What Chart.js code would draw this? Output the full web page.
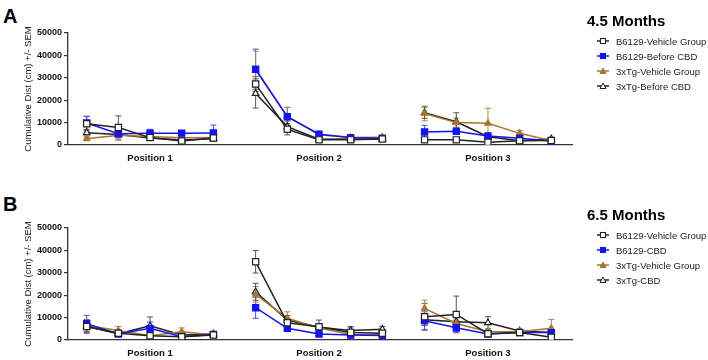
<!DOCTYPE html>
<html>
<head>
<meta charset="utf-8">
<script src="https://cdn.jsdelivr.net/npm/chart.js@4.4.1/dist/chart.umd.min.js"></script>
<style>
    body { margin: 0; width: 708px; height: 360px; background: #fff; position: relative; overflow: hidden;
           font-family: Arial, "Liberation Sans", sans-serif; }
    .panel { position: absolute; left: 0; width: 708px; height: 180px; }
    .tag { position: absolute; left: 3px; font-size: 20px; font-weight: bold; line-height: 20px; color: #000; }
    .legTitle { position: absolute; left: 587px; font-size: 15px; font-weight: bold; line-height: 18px; color: #000; }
    .legItem { position: absolute; left: 597px; height: 15px; line-height: 15px; font-size: 9.5px; color: #222;
               display: flex; align-items: center; white-space: nowrap; }
    .legItem svg { margin-right: 7px; }
</style>
</head>
<body>
<div class="tag" style="top:6px">A</div>
<div class="tag" style="top:194px">B</div>
<div class="panel" style="top:0"><canvas id="chartA" width="708" height="180"></canvas></div>
<div class="panel" style="top:180px"><canvas id="chartB" width="708" height="180"></canvas></div>
<div id="legends"></div>

<script>
// categories
const positions = ['Position 1', 'Position 2', 'Position 3'];
const yTicks = [0, 10000, 20000, 30000, 40000, 50000];

// 4.5 months (5 trials per position)
const namesA = ['B6129-Vehicle Group', 'B6129-Before CBD', '3xTg-Vehicle Group', '3xTg-Before CBD'];
const a_b6129Veh     = [9500, 7800, 3300, 1800, 3100,  27200, 7000, 2300, 2300, 2700,  2300, 2300, 1200, 1900, 2000];
const a_b6129Veh_sem = [3300, 5200, 800, 600, 800,     3300, 2500, 500, 500, 400,      500, 500, 400, 400, 400];
const a_b6129Cbd     = [9800, 5000, 5300, 5300, 5400,  33800, 12600, 4800, 3300, 3000, 5800, 6100, 4000, 3000, 1800];
const a_b6129Cbd_sem = [3000, 1500, 1700, 1200, 3500,  9000, 4200, 1000, 600, 500,     3000, 700, 1000, 800, 500];
const a_tgVeh        = [2800, 4300, 3800, 3200, 3400,  33400, 12800, 4600, 3300, 3500, 14100, 10000, 9700, 5200, 1900];
const a_tgVeh_sem    = [700, 2200, 900, 600, 700,      8500, 4000, 900, 500, 500,      3300, 2000, 6700, 1300, 400];
const a_tgCbd        = [5500, 4700, 3100, 2200, 2800,  23000, 8200, 2600, 2700, 2700,  14400, 10400, 3700, 1900, 2700];
const a_tgCbd_sem    = [1500, 1200, 700, 500, 500,     6500, 2500, 500, 500, 400,      2500, 4000, 900, 500, 500];

// 6.5 months
const namesB = ['B6129-Vehicle Group', 'B6129-CBD', '3xTg-Vehicle Group', '3xTg-CBD'];
const b_b6129Veh     = [6000, 3000, 1900, 1500, 2200,  34900, 7700, 5900, 3400, 3000,  10400, 11400, 2800, 3300, 1200];
const b_b6129Veh_sem = [2500, 800, 600, 500, 600,      5000, 2000, 3000, 2500, 800,    6000, 8200, 800, 600, 500];
const b_b6129Cbd     = [7300, 2700, 5200, 1500, 2500,  14400, 5200, 2700, 2200, 2000,  8600, 5500, 2700, 3300, 3300];
const b_b6129Cbd_sem = [3700, 600, 2800, 400, 800,     4700, 1000, 500, 400, 400,      4000, 1800, 600, 500, 500];
const b_tgVeh        = [6500, 4200, 1900, 3700, 2300,  20400, 9700, 5400, 2500, 2300,  14100, 7400, 3700, 3700, 5200];
const b_tgVeh_sem    = [2500, 1800, 500, 1700, 500,    3500, 2900, 1200, 700, 500,     3700, 1500, 800, 700, 4000];
const b_tgCbd        = [6000, 2800, 6300, 2200, 2700,  21500, 8900, 5700, 4200, 4800,  9000, 8200, 7700, 4000, 3300];
const b_tgCbd_sem    = [3000, 700, 4000, 500, 700,     3800, 2000, 1200, 1700, 1200,   2500, 3000, 2700, 1000, 600];

const perGroup = 5;
const groupStep = 16 / 3;

const looks = [
    { color: '#222222', shape: 'rect',     fill: '#ffffff', edge: '#222222', err: '#555555', r: 4.4 },
    { color: '#1414f0', shape: 'rect',     fill: '#1414f0', edge: '#1414f0', err: '#4b4bf2', r: 4.4 },
    { color: '#a8762e', shape: 'triangle', fill: '#a8762e', edge: '#a8762e', err: '#b08448', r: 3.6 },
    { color: '#222222', shape: 'triangle', fill: '#ffffff', edge: '#222222', err: '#555555', r: 3.8 }
];

function toPoints(vals, sem) {
    const out = [];
    positions.forEach((p, g) => {
        for (let i = 0; i < perGroup; i++) {
            const k = g * perGroup + i;
            out.push({ x: g * groupStep + i, y: vals[k], e: sem[k] });
        }
        if (g < positions.length - 1) out.push({ x: g * groupStep + perGroup - 0.5, y: null, e: 0 });
    });
    return out;
}

const errorBars = {
    id: 'errorBars',
    beforeDatasetsDraw(chart) {
        const ctx = chart.ctx, ys = chart.scales.y;
        ctx.save();
        chart.data.datasets.forEach((ds, di) => {
            const meta = chart.getDatasetMeta(di);
            ctx.strokeStyle = ds.errColor;
            ctx.lineWidth = 1;
            ds.data.forEach((d, i) => {
                if (d.y == null || !d.e) return;
                const x = meta.data[i].x;
                const top = ys.getPixelForValue(d.y + d.e), bot = ys.getPixelForValue(Math.max(0, d.y - d.e));
                ctx.beginPath();
                ctx.moveTo(x, top); ctx.lineTo(x, bot);
                ctx.moveTo(x - 3, top); ctx.lineTo(x + 3, top);
                ctx.moveTo(x - 3, bot); ctx.lineTo(x + 3, bot);
                ctx.stroke();
            });
        });
        ctx.restore();
    }
};

function makeChart(id, names, series, topPad, xHeight) {
    const datasets = series.map((s, i) => ({
        label: names[i],
        data: toPoints(s[0], s[1]),
        borderColor: looks[i].color,
        borderWidth: 1.5,
        pointStyle: looks[i].shape,
        pointRadius: looks[i].r,
        pointBackgroundColor: looks[i].fill,
        pointBorderColor: looks[i].edge,
        pointBorderWidth: 1.2,
        errColor: looks[i].err,
        spanGaps: false,
        tension: 0
    }));
    const centers = positions.map((p, g) => g * groupStep + (perGroup - 1) / 2);
    return new Chart(document.getElementById(id), {
        type: 'line',
        data: { datasets },
        plugins: [errorBars],
        options: {
            responsive: false, animation: false, devicePixelRatio: 1,
            layout: { padding: { top: topPad, right: 136, bottom: 0, left: 0 } },
            plugins: { legend: { display: false }, tooltip: { enabled: false } },
            scales: {
                x: {
                    type: 'linear', min: -0.59, max: 15.32,
                    afterBuildTicks: sc => { sc.ticks = centers.map(v => ({ value: v })); },
                    afterFit: sc => { sc.height = xHeight; },
                    ticks: {
                        callback: (v, i) => positions[i],
                        color: '#111', padding: 8, maxRotation: 0,
                        font: { family: 'Arial, "Liberation Sans"', size: 9.5, weight: 'bold' }
                    },
                    grid: { display: false, drawTicks: false },
                    border: { display: true, color: '#333', width: 1.3 }
                },
                y: {
                    min: 0, max: 50000,
                    afterBuildTicks: sc => { sc.ticks = yTicks.map(v => ({ value: v })); },
                    afterFit: sc => { sc.width = 68; },
                    ticks: {
                        callback: v => String(v),
                        color: '#111', padding: 2,
                        font: { family: 'Arial, "Liberation Sans"', size: 9, weight: 'bold' }
                    },
                    grid: { drawOnChartArea: false, drawTicks: true, tickLength: 4, color: '#333', lineWidth: 1.2 },
                    border: { display: true, color: '#333', width: 1.3 },
                    title: {
                        display: true, text: 'Cumulative Dist (cm) +/- SEM', color: '#222',
                        padding: { top: 23, bottom: 0 },
                        font: { family: 'Arial, "Liberation Sans"', size: 9.5 }
                    }
                }
            }
        }
    });
}

makeChart('chartA', namesA, [
    [a_b6129Veh, a_b6129Veh_sem], [a_b6129Cbd, a_b6129Cbd_sem], [a_tgVeh, a_tgVeh_sem], [a_tgCbd, a_tgCbd_sem]
], 33, 35);
makeChart('chartB', namesB, [
    [b_b6129Veh, b_b6129Veh_sem], [b_b6129Cbd, b_b6129Cbd_sem], [b_tgVeh, b_tgVeh_sem], [b_tgCbd, b_tgCbd_sem]
], 48, 20);

// legends
function icon(lk) {
    const mk = lk.shape === 'rect'
        ? `<rect x="3.5" y="1.5" width="5" height="5" fill="${lk.fill}" stroke="${lk.edge}" stroke-width="1.1"/>`
        : `<polygon points="6,1 9,6.5 3,6.5" fill="${lk.fill}" stroke="${lk.edge}" stroke-width="1"/>`;
    return `<svg width="12" height="8"><line x1="0" y1="4" x2="12" y2="4" stroke="${lk.color}" stroke-width="1.5"/>${mk}</svg>`;
}
function legend(title, names, titleY, firstY) {
    const box = document.getElementById('legends');
    box.insertAdjacentHTML('beforeend', `<div class="legTitle" style="top:${titleY - 9}px">${title}</div>`);
    names.forEach((n, i) => {
        box.insertAdjacentHTML('beforeend',
            `<div class="legItem" style="top:${firstY + i * 15 - 7.5}px">${icon(looks[i])}<span>${n}</span></div>`);
    });
}
legend('4.5 Months', namesA, 21, 41);
legend('6.5 Months', namesB, 215, 235);
</script>
</body>
</html>
